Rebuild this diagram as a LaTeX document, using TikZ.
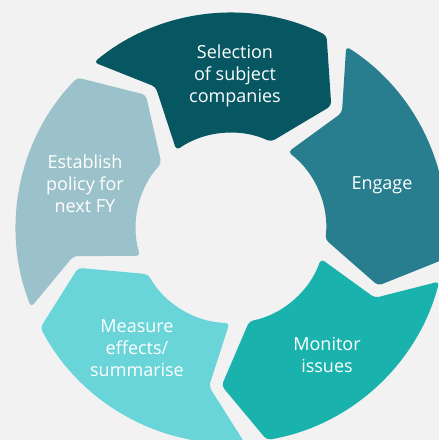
\documentclass[tikz,border=0pt]{standalone}
\usepackage{fontspec}
\setmainfont{Open Sans}
\definecolor{bgc}{RGB}{242,242,242}
\definecolor{selc}{RGB}{7,87,99}
\definecolor{engc}{RGB}{40,126,143}
\definecolor{monc}{RGB}{26,178,172}
\definecolor{meac}{RGB}{106,213,216}
\definecolor{estc}{RGB}{155,193,202}
\newcommand\cycseg[2]{%
  \pgfmathsetmacro\sA{#1+7}%
  \pgfmathsetmacro\sB{#1-72+13}%
  \pgfmathsetmacro\sT{#1-72}%
  \pgfmathsetmacro\sC{#1-72+14.5}%
  \pgfmathsetmacro\sD{#1+2.5}%
  \pgfmathsetmacro\sN{#1-4.5}%
  \fill[#2, rounded corners=4pt] (\sA:215) arc[start angle=\sA, end angle=\sB, radius=215]
    -- (\sT:158) -- (\sC:95) arc[start angle=\sC, end angle=\sD, radius=95]
    -- (\sN:160) -- cycle;%
}
\tikzset{lbl/.style={text=white, align=center, font=\fontsize{18}{22}\selectfont, inner sep=0pt}}
\begin{document}
\begin{tikzpicture}[x=1pt,y=1pt]
\fill[bgc] (-231,-212) rectangle (208,228);
\useasboundingbox (-231,-212) rectangle (208,228);
\cycseg{122.6}{selc}
\cycseg{50.6}{engc}
\cycseg{-21.4}{monc}
\cycseg{-93.4}{meac}
\cycseg{-165.4}{estc}
\node[lbl] (sel) at (4,152.5) {Selection\\of subject\\companies};
\node[lbl] (eng) at (151,43) {Engage};
\node[lbl] (mon) at (96,-127) {Monitor\\issues};
\node[lbl] (mea) at (-94,-120.5) {Measure\\effects/\\summarise};
\node[lbl] (est) at (-146,44) {Establish\\policy for\\next FY};
\end{tikzpicture}
\end{document}
